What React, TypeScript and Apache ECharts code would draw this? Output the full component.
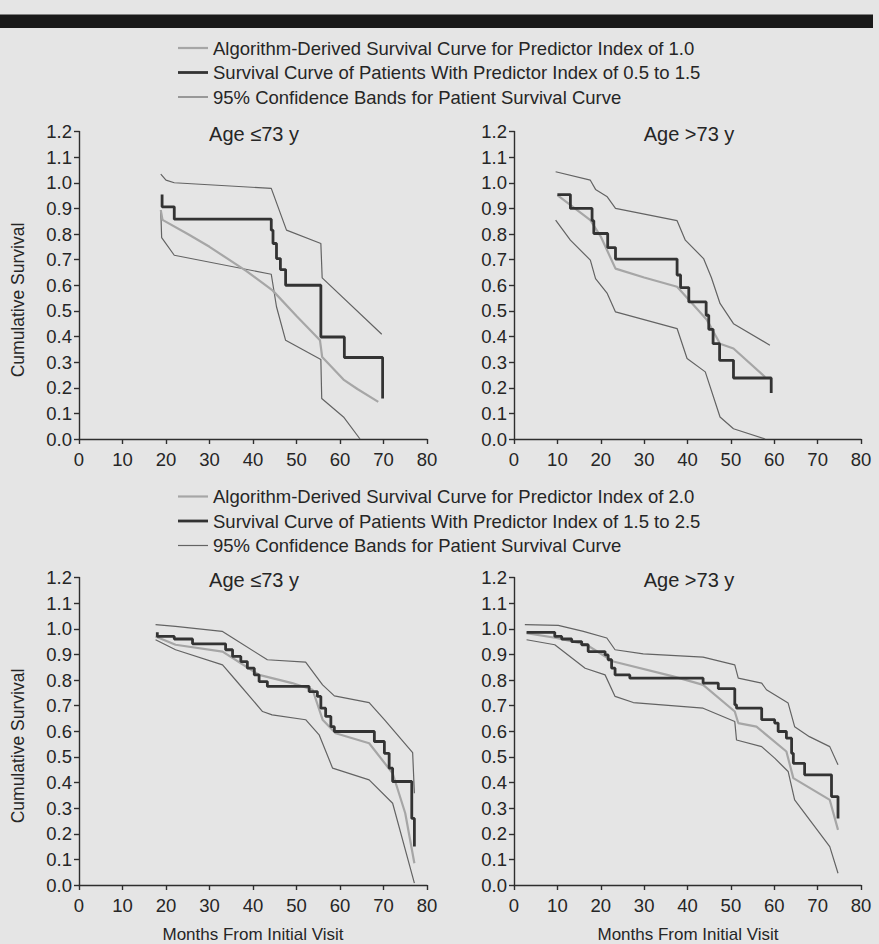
import React, { useEffect, useRef } from "react";
import * as echarts from "echarts";

// ---------- Data (months, cumulative survival) ----------
// Top row: predictor index 1.0 / 0.5 to 1.5
const algoA = [[18.8,0.893],[19.2,0.855],[25,0.80],[30,0.75],[38.5,0.655],[44.5,0.58],[50,0.48],[55.4,0.385],[55.9,0.32],[60.8,0.232],[64,0.195],[68.8,0.145]];
const kmA = [[19.1,0.954],[19.1,0.906],[21.9,0.858],[44.2,0.815],[44.6,0.763],[45.4,0.704],[46.3,0.661],[47.5,0.60],[55.6,0.398],[61,0.318],[69.8,0.158]];
const upperA = [[18.8,1.034],[20,1.01],[21.9,1.0],[44.2,0.978],[47.7,0.815],[55.6,0.763],[55.9,0.629],[69.6,0.409]];
const lowerA = [[18.8,0.893],[19.0,0.786],[21.9,0.717],[44.2,0.643],[45.4,0.516],[47.5,0.385],[55.6,0.31],[55.8,0.158],[60.8,0.086],[64.6,0.0]];

const algoB = [[10,0.952],[17.6,0.854],[20,0.79],[23.4,0.665],[30,0.63],[37.6,0.594],[44.5,0.464],[47.5,0.372],[50.6,0.353],[57.9,0.242]];
const kmB = [[10,0.954],[13,0.90],[18,0.852],[18.4,0.802],[21.6,0.747],[23.4,0.702],[37.6,0.64],[38.4,0.591],[40.3,0.535],[44.3,0.483],[44.9,0.428],[45.9,0.372],[47.4,0.307],[50.6,0.238],[59.3,0.18]];
const upperB = [[9.6,1.043],[17.6,1.01],[18.8,0.974],[21.5,0.945],[23.4,0.90],[37.6,0.852],[39.5,0.776],[43.7,0.704],[45.5,0.63],[47.5,0.529],[50.6,0.45],[59,0.366]];
const lowerB = [[9.6,0.854],[13,0.776],[17.6,0.698],[18.8,0.626],[21.5,0.568],[23.4,0.496],[37.6,0.431],[39.9,0.314],[44.1,0.262],[47.5,0.086],[50.6,0.04],[57.9,0.0]];

// Bottom row: predictor index 2.0 / 1.5 to 2.5
const algoC = [[17.6,0.97],[22.2,0.9375],[33,0.911],[41.4,0.82],[49,0.788],[53.7,0.762],[56,0.645],[59,0.592],[66.7,0.553],[72.1,0.436],[75,0.28],[77.1,0.085]];
const kmC = [[18,0.986],[18,0.97],[21.9,0.96],[26.1,0.941],[33.7,0.918],[35.3,0.892],[37.2,0.872],[38.7,0.846],[40.3,0.82],[41.4,0.794],[43.3,0.775],[52.9,0.755],[54.8,0.736],[55.6,0.69],[56.7,0.658],[57.9,0.618],[58.7,0.599],[67.9,0.56],[70.2,0.514],[71.3,0.456],[72.1,0.404],[76.5,0.26],[77.1,0.15]];
const upperC = [[17.6,1.016],[22.2,1.009],[32.9,0.99],[36,0.957],[43.3,0.879],[52.1,0.87],[56,0.781],[58.7,0.738],[66.7,0.712],[70.2,0.645],[76.7,0.517],[77.1,0.358]];
const lowerC = [[17.6,0.957],[22.2,0.918],[33,0.859],[36,0.8],[42.2,0.677],[44.4,0.664],[52.1,0.645],[55.2,0.586],[58.3,0.456],[66.7,0.41],[72.1,0.319],[77.1,0.007]];

const algoD = [[2.9,0.983],[9.8,0.964],[16.7,0.9375],[22.9,0.872],[36.7,0.814],[43.6,0.781],[50.9,0.677],[51.7,0.632],[55.9,0.618],[62.8,0.521],[64.4,0.417],[72.8,0.332],[74.7,0.215]];
const kmD = [[2.9,0.986],[9.4,0.97],[11,0.96],[13.3,0.95],[15.6,0.9375],[17.1,0.911],[21,0.898],[21.7,0.879],[22.5,0.846],[23.3,0.82],[26.7,0.807],[43.6,0.788],[47.1,0.766],[50.9,0.703],[51.3,0.69],[57.1,0.645],[60.1,0.632],[60.9,0.599],[62.8,0.573],[64,0.514],[64.4,0.475],[67,0.43],[73.2,0.345],[74.7,0.26]];
const upperD = [[2.5,1.016],[10.2,1.013],[16,0.99],[21.4,0.964],[23.3,0.918],[29.8,0.902],[43.6,0.889],[50.9,0.859],[51.7,0.807],[57.1,0.788],[58.2,0.762],[63.2,0.71],[64.7,0.618],[68.1,0.579],[72.8,0.54],[74.7,0.469]];
const lowerD = [[2.9,0.957],[9.4,0.9375],[16.4,0.846],[21,0.82],[23.3,0.736],[27.5,0.712],[43.6,0.69],[50.9,0.638],[51.3,0.566],[57.1,0.54],[60.1,0.495],[63.2,0.443],[64.7,0.332],[72.8,0.15],[74.7,0.046]];

const panelTitles = ["Age \u226473 y", "Age >73 y", "Age \u226473 y", "Age >73 y"];
const topNames = [
  "Algorithm-Derived Survival Curve for Predictor Index of 1.0",
  "Survival Curve of Patients With Predictor Index of 0.5 to 1.5",
  "95% Confidence Bands for Patient Survival Curve",
];
const bottomNames = [
  "Algorithm-Derived Survival Curve for Predictor Index of 2.0",
  "Survival Curve of Patients With Predictor Index of 1.5 to 2.5",
  "95% Confidence Bands for Patient Survival Curve",
];
const yAxisTitle = "Cumulative Survival";
const xAxisTitle = "Months From Initial Visit";

const FONT = "'Liberation Sans', Arial, Helvetica, sans-serif";
const TXT = "#262626";
const ALGO_C = "#a6a6a6";
const KM_C = "#333333";
const CI_C = "#636363";
const STYLES = [
  { color: ALGO_C, width: 2.2 },
  { color: KM_C, width: 2.8 },
  { color: CI_C, width: 1.2 },
];

export default function App() {
  const ref = useRef<HTMLDivElement>(null);
  useEffect(() => {
    if (!ref.current) return;
    const chart = echarts.init(ref.current, undefined, { renderer: "svg" });

    const grids = [
      { left: 79, top: 131.5, width: 348, height: 307.5 },
      { left: 514, top: 131.5, width: 347, height: 307.5 },
      { left: 79, top: 577.5, width: 348, height: 307.5 },
      { left: 514, top: 577.5, width: 347, height: 307.5 },
    ];
    const axisCommon = {
      axisLine: { show: true, lineStyle: { color: "#2e2e2e", width: 1.4 } },
      axisTick: { show: true, inside: false, length: 5, lineStyle: { color: "#2e2e2e", width: 1.4 } },
      splitLine: { show: false },
    };
    const xAxes = grids.map((_, i) => ({
      type: "value", gridIndex: i, min: 0, max: 80, interval: 10,
      ...axisCommon,
      axisLabel: { fontSize: 18.5, fontFamily: FONT, color: TXT, margin: 11 },
    }));
    const yAxes = grids.map((_, i) => ({
      type: "value", gridIndex: i, min: 0, max: 1.2, interval: 0.1,
      ...axisCommon,
      axisLabel: {
        fontSize: 18.5, fontFamily: FONT, color: TXT, margin: 7,
        formatter: (v: number) => v.toFixed(1),
      },
    }));

    const panels = [
      { algo: algoA, km: kmA, up: upperA, lo: lowerA, names: topNames },
      { algo: algoB, km: kmB, up: upperB, lo: lowerB, names: topNames },
      { algo: algoC, km: kmC, up: upperC, lo: lowerC, names: bottomNames },
      { algo: algoD, km: kmD, up: upperD, lo: lowerD, names: bottomNames },
    ];
    const series: any[] = [];
    panels.forEach((p, i) => {
      const base = { type: "line", xAxisIndex: i, yAxisIndex: i, symbol: "none", silent: true };
      const mk = (k: number) => ({ lineStyle: { color: STYLES[k].color, width: STYLES[k].width }, itemStyle: { color: STYLES[k].color } });
      series.push({ ...base, name: p.names[2], data: p.up, ...mk(2) });
      series.push({ ...base, name: p.names[2], data: p.lo, ...mk(2) });
      series.push({ ...base, name: p.names[0], data: p.algo, ...mk(0) });
      series.push({ ...base, name: p.names[1], data: p.km, step: "end", ...mk(1) });
    });

    // one legend per row so each sample line can have its own thickness
    const legendRows = [
      { name: topNames[0], y: 48, k: 0 },
      { name: topNames[1], y: 72.5, k: 1 },
      { name: topNames[2], y: 97, k: 2 },
      { name: bottomNames[0], y: 496.5, k: 0 },
      { name: bottomNames[1], y: 521, k: 1 },
      { name: bottomNames[2], y: 545.5, k: 2 },
    ];
    const legends = legendRows.map((r) => ({
      orient: "horizontal", left: 178, top: r.y - 10,
      itemWidth: 30, itemHeight: STYLES[r.k].width, padding: 0, selectedMode: false,
      icon: "rect",
      itemStyle: { color: STYLES[r.k].color },
      textStyle: { fontSize: 18.5, fontFamily: FONT, color: TXT, lineHeight: 20 },
      data: [{ name: r.name, icon: "rect", itemStyle: { color: STYLES[r.k].color } }],
    }));

    const titlePos = [
      [254, 134], [689, 134], [254, 580], [689, 580],
    ];
    const graphics: any[] = [
      { type: "rect", shape: { x: 0, y: 14.5, width: 873, height: 13.5 }, style: { fill: "#1a1a1a" } },
      ...titlePos.map((pos, i) => ({
        type: "text", x: pos[0], y: pos[1],
        style: { text: panelTitles[i], font: `20px ${FONT}`, fill: TXT, align: "center", verticalAlign: "middle" },
      })),
      ...[300, 746].map((y) => ({
        type: "text", x: 18, y, rotation: Math.PI / 2,
        style: { text: yAxisTitle, font: `17.5px ${FONT}`, fill: TXT, align: "center", verticalAlign: "middle" },
      })),
      ...[253, 688].map((x) => ({
        type: "text", x, y: 934,
        style: { text: xAxisTitle, font: `17px ${FONT}`, fill: TXT, align: "center", verticalAlign: "middle" },
      })),
    ];

    chart.setOption({
      animation: false,
      backgroundColor: "#e5e5e5",
      grid: grids,
      xAxis: xAxes,
      yAxis: yAxes,
      legend: legends,
      graphic: graphics,
      series,
    });
    return () => chart.dispose();
  }, []);
  return (
    <div
      ref={ref}
      style={{ position: "absolute", left: 0, top: 0, width: 879, height: 944 }}
    />
  );
}
